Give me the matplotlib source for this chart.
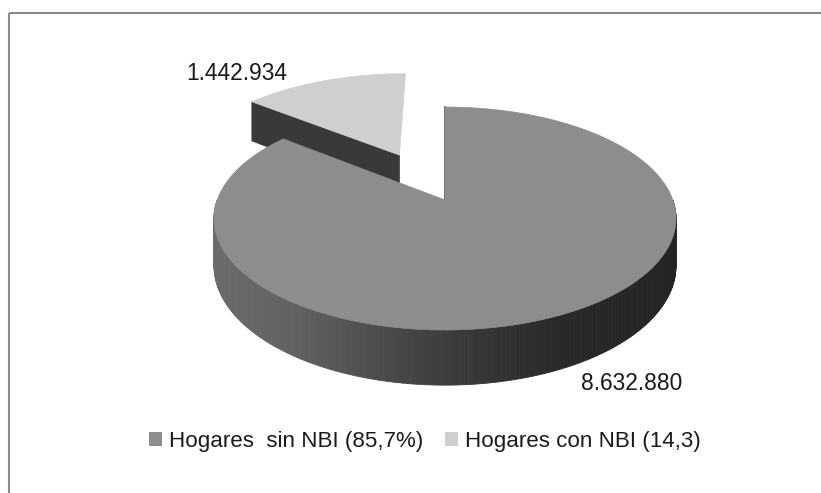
import numpy as np
import matplotlib
matplotlib.use("Agg")
import matplotlib.pyplot as plt
from matplotlib.patches import Polygon, Patch

categories = ["Hogares  sin NBI (85,7%)", "Hogares con NBI (14,3)"]
households = [8632880, 1442934]
value_labels = ["8.632.880", "1.442.934"]

plt.rcParams["font.family"] = ["Liberation Sans", "DejaVu Sans"]
fig = plt.figure(figsize=(8.21, 4.93), dpi=100)
ax = fig.add_axes([0, 0, 1, 1])
ax.set_xlim(0, 821)
ax.set_ylim(493, 0)
ax.axis("off")

# frame: only the top and left edges are present
ax.plot([8.5, 821], [13, 13], color="#8a8a8a", lw=1.5, solid_capstyle="butt")
ax.plot([8.5, 8.5], [12.5, 493], color="#8a8a8a", lw=1.5, solid_capstyle="butt")

# perspective disc projection
CX, CY, A, B, P, DEPTH = 445, 200, 227.8, 108.4, 0.166, 46


def project(u, v, low=False):
    w = 1 + P * v
    x = CX + A * u / w
    y = CY - B * v / w
    if low:
        y = y + DEPTH / w
    return x, y


def arc(a0, a1, u0=0.0, v0=0.0, low=False, n=200):
    t = np.radians(np.linspace(a0, a1, n))
    return project(u0 + np.cos(t), v0 + np.sin(t), low)


total = sum(households)
sweep_main = 360 * households[0] / total
start = 90.0
end_main = start - sweep_main          # clockwise from the top
mid_small = end_main - (360 - sweep_main) / 2
e = 0.494
ux = e * np.cos(np.radians(mid_small))
vx = e * np.sin(np.radians(mid_small))

# --- exploded small slice
x0, y0 = project(ux, vx)
x0b, y0b = project(ux, vx, True)
xa, ya = arc(end_main, end_main - (360 - sweep_main), ux, vx)
xab, yab = arc(end_main, end_main - (360 - sweep_main), ux, vx, True)
ax.add_patch(Polygon([(xa[0], ya[0]), (x0, y0), (x0b, y0b), (xab[0], yab[0])],
                     fc="#393939", ec="#393939", lw=0.5, zorder=2))
ax.add_patch(Polygon(np.r_[[(x0, y0)], np.c_[xa, ya]], fc="#cfcfcf", ec="#cfcfcf", lw=0.5, zorder=3))

# --- main slice wall: shaded strips along the front arc
knots_x = [215, 250, 300, 350, 400, 450, 500, 560, 677]
knots_g = [0.42, 0.40, 0.38, 0.33, 0.28, 0.235, 0.20, 0.16, 0.14]
angles = np.linspace(180, 360, 181)
xt, yt = arc(180, 360, n=181)
xb, yb = arc(180, 360, low=True, n=181)
for i in range(len(angles) - 1):
    g = np.interp((xt[i] + xt[i + 1]) / 2, knots_x, knots_g)
    ax.add_patch(Polygon([(xt[i], yt[i]), (xt[i + 1], yt[i + 1]), (xb[i + 1], yb[i + 1]), (xb[i], yb[i])],
                         fc=str(g), ec=str(g), lw=0.6, zorder=4))

# --- cut face seen edge-on
xc, yc = project(0, 0)
xc1, yc1 = project(0, 1)
ax.plot([xc, xc1], [yc, yc1], color="#4d4d4d", lw=1.2, zorder=4)

# --- main slice top
xm, ym = arc(start, end_main, n=500)
ax.add_patch(Polygon(np.r_[[(xc, yc)], np.c_[xm, ym]], fc="#8d8d8d", ec="#8d8d8d", lw=0.5, zorder=5))

# --- labels
ax.text(186, 73, value_labels[1], fontsize=16.4, color="#1a1a1a", ha="left", va="center", zorder=6)
ax.text(581, 384, value_labels[0], fontsize=16.4, color="#1a1a1a", ha="left", va="center", zorder=6)

handles = [Patch(fc="#8d8d8d", ec="none"), Patch(fc="#cfcfcf", ec="none")]
leg = ax.legend(handles, categories, ncol=2, frameon=False, fontsize=16.1,
                loc="center", bbox_to_anchor=(425 / 821, 1 - 441 / 493),
                handlelength=0.58, handleheight=0.58, handletextpad=0.3,
                columnspacing=1.0, labelcolor="#1a1a1a")

fig.savefig("out.png", dpi=100)
